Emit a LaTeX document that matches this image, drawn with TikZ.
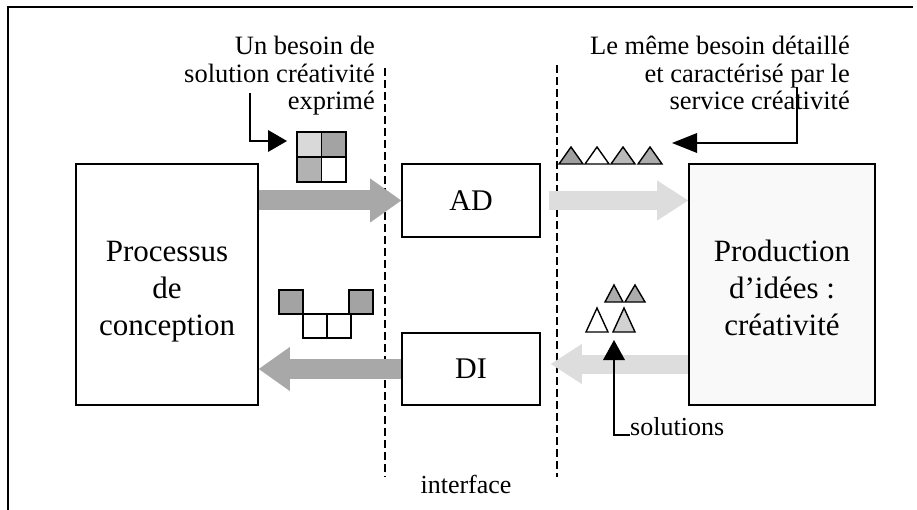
\documentclass[tikz,border=0pt]{standalone}
\usepackage{fontspec}
\setmainfont{Liberation Serif}
\usetikzlibrary{arrows.meta,calc}
\newcommand{\boxlines}[1]{\raisebox{-7pt}[\height][\depth]{\begin{tabular}{@{}c@{}}#1\end{tabular}}}
\tikzset{
  box/.style={draw,line width=1.6pt,inner sep=0pt,align=center},
  bigtxt/.style={font=\fontsize{31}{37}\selectfont},
  lbl/.style={font=\fontsize{26.5}{27.5}\selectfont,align=right,inner sep=0pt},
  smalltxt/.style={font=\fontsize{26}{28}\selectfont,inner sep=0pt},
  darkflow/.style={line width=20pt,draw=gray!68,-{Triangle[length=31pt,width=44pt,line width=0pt]}},
  lightflow/.style={line width=19pt,draw=gray!27,-{Triangle[length=31pt,width=40pt,line width=0pt]}},
  pointer/.style={line width=1.8pt},
  sep/.style={line width=1.6pt,dash pattern=on 8pt off 4pt},
  cell/.style={draw,line width=1.6pt},
  tri/.style={draw,line width=1.4pt,line join=miter},
}
\begin{document}
\begin{tikzpicture}[x=1pt,y=-1pt]
\useasboundingbox (0,0) rectangle (917,510);
% frame
\draw[line width=2pt] (913,7) -- (8,7) -- (8,510);

% boxes
\node[box,minimum width=182pt,minimum height=241pt,bigtxt] (proc) at (167,284.5) {\boxlines{Processus\\de\\conception}};
\node[box,fill=gray!5,minimum width=186pt,minimum height=241pt,bigtxt] (prod) at (782,284.5) {\boxlines{Production\\d’idées :\\créativité}};
\node[box,minimum width=138pt,minimum height=73pt,font=\fontsize{30}{36}\selectfont] (ad) at (471,200.5) {AD};
\node[box,minimum width=138pt,minimum height=72pt,font=\fontsize{30}{36}\selectfont] (di) at (471,369) {DI};

% interface separators
\coordinate (s1t) at (385,68);
\coordinate (s1b) at (385,477);
\coordinate (s2t) at (557,65);
\coordinate (s2b) at (557,477);
\draw[sep] (s1t) -- (s1b);
\draw[sep] (s2t) -- (s2b);
\node[smalltxt,anchor=base] (iface) at (466,493) {interface};

% flows
\draw[darkflow] (proc.east |- ad) -- (ad.west);
\draw[lightflow] ([xshift=8pt]ad.east) -- (prod.west |- ad);
\coordinate (lfs) at ($(prod.west |- di)+(0,-5)$);
\coordinate (lfe) at ($(di.east)+(10,-5)$);
\draw[lightflow] (lfs) -- (lfe);
\draw[darkflow] (di.west) -- (proc.east |- di);

% labels
\node[lbl,anchor=north east] (needA) at (375,36) {Un besoin de\\solution créativité\\exprimé};
\node[lbl,anchor=north east] (needB) at (850,36) {Le même besoin détaillé\\et caractérisé par le\\service créativité};
\node[smalltxt,anchor=base west] (sol) at (630,435) {solutions};

% pointers
\coordinate (pA) at (250,93);
\coordinate (sqA) at (287,141);
\draw[pointer,-{Triangle[length=19pt,width=22pt,line width=0pt]}] (pA) |- (sqA);
\coordinate (pB) at (797,87);
\coordinate (triB) at (672,143);
\draw[pointer,-{Triangle[length=25pt,width=20pt,line width=0pt]}] (pB) |- (triB);
\coordinate (solTip) at (614,340);
\draw[pointer,-{Triangle[length=20pt,width=22pt,line width=0pt]}] (sol.base west) -| (solTip);

% squares icon (need)
\fill[gray!30] (297,132) rectangle (321.5,157);
\fill[gray!72] (321.5,132) rectangle (346,157);
\fill[gray!60] (297,157) rectangle (321.5,182);
\draw[cell] (297,132) rectangle (346,182);
\draw[cell] (321.5,132) -- (321.5,182);
\draw[cell] (297,157) -- (346,157);

% squares icon (answer)
\draw[cell,fill=gray!72] (279,290) rectangle (303,314);
\draw[cell,fill=gray!72] (349,290) rectangle (373,314);
\draw[cell] (303,314) rectangle (327,338);
\draw[cell] (327,314) rectangle (351,338);

% triangles (detailed need)
\draw[tri,fill=gray!75] (559,164) -- (583,164) -- (571,147) -- cycle;
\draw[tri,fill=white] (585,164) -- (609,164) -- (597,147) -- cycle;
\draw[tri,fill=gray!55] (611,164) -- (635,164) -- (623,147) -- cycle;
\draw[tri,fill=gray!65] (638,164) -- (662,164) -- (650,147) -- cycle;

% triangles (solutions)
\draw[tri,fill=gray!65] (605,302) -- (623,302) -- (614,285) -- cycle;
\draw[tri,fill=gray!65] (625,302) -- (645,302) -- (635,285) -- cycle;
\draw[tri,fill=white] (586,332) -- (608,332) -- (597,308) -- cycle;
\draw[tri,fill=gray!35] (613,332) -- (635,332) -- (624,308) -- cycle;
\end{tikzpicture}
\end{document}
